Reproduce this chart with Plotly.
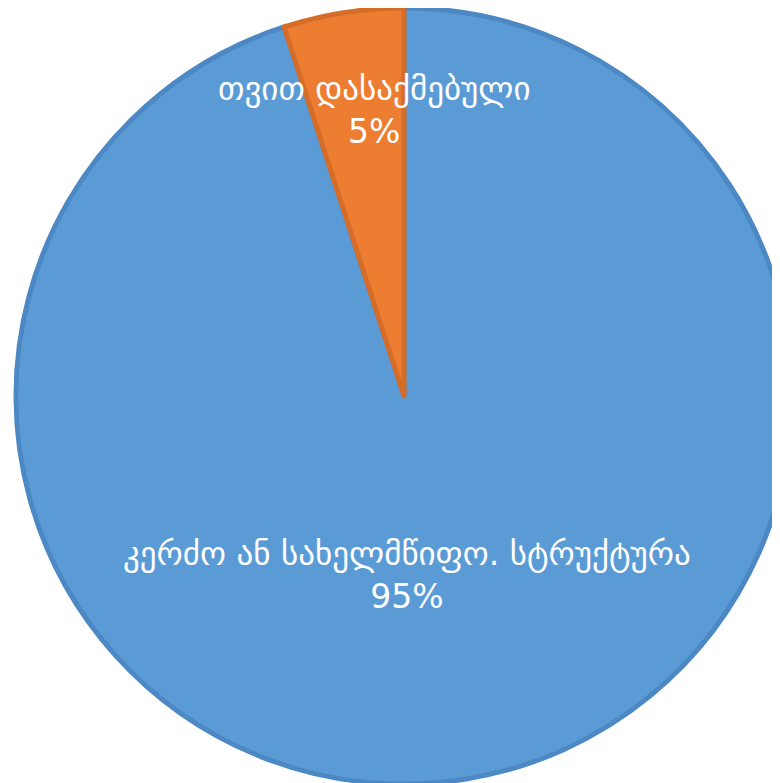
import plotly.graph_objects as go

labels = ["კერძო ან სახელმწიფო. სტრუქტურა", "თვით დასაქმებული"]
values = [95, 5]
colors = ["#5B9BD5", "#ED7D31"]
border_colors = ["#4C88C4", "#D56D28"]

fig = go.Figure(
    go.Pie(
        labels=labels,
        values=values,
        sort=False,
        direction="clockwise",
        rotation=0,
        marker=dict(colors=colors, line=dict(color=border_colors, width=5)),
        textinfo="none",
        hoverinfo="label+percent",
        showlegend=False,
        domain=dict(x=[0, 1], y=[0, 1]),
    )
)

total = sum(values)
label_pos = [(0.504, 0.269), (0.463, 0.869)]
for lab, val, (px, py) in zip(labels, values, label_pos):
    fig.add_annotation(
        x=px, y=py, xref="paper", yref="paper",
        xanchor="center", yanchor="middle",
        text=f"{lab}<br>{round(100 * val / total)}%",
        showarrow=False,
        font=dict(family="DejaVu Sans", size=33, color="white"),
        align="center",
    )

fig.update_layout(
    width=792, height=776,
    margin=dict(l=0, r=0, t=0, b=0),
    paper_bgcolor="white",
    plot_bgcolor="white",
)

fig.write_html("out.html")
